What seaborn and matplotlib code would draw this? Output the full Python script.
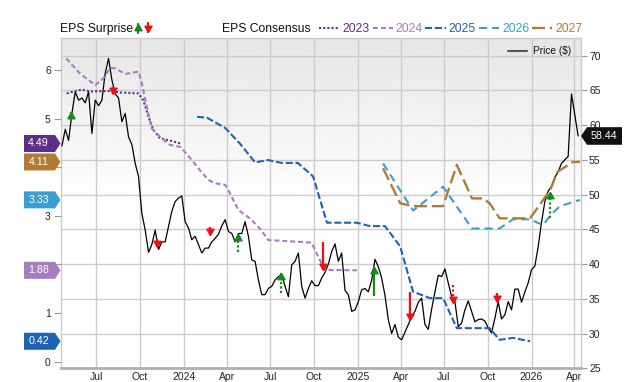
import numpy as np
import pandas as pd
import matplotlib
matplotlib.use('Agg')
import matplotlib.pyplot as plt
import seaborn as sns
from matplotlib.path import Path
from matplotlib.lines import Line2D
from matplotlib.patches import Polygon

# ---- data ----
price_start = '2023-04-20'   # weekly closes
price = [57.0, 59.4, 57.8, 61.7, 64.8, 63.6, 63.9, 63.2, 64.8, 58.8,
         63.6, 62.8, 63.6, 67.5, 69.6, 66.5, 64.5, 63.9, 60.5, 61.7,
         58.3, 57.2, 54.5, 52.6, 47.3, 44.9, 41.7, 42.8, 44.9, 42.1,
         43.2, 43.2, 45.4, 47.6, 49.0, 49.5, 49.8, 46.1, 45.2, 43.5,
         44.0, 42.8, 41.6, 42.3, 42.3, 43.2, 43.7, 44.3, 45.5, 46.4,
         44.7, 44.4, 43.2, 44.4, 44.4, 46.1, 44.0, 40.6, 40.4, 37.7,
         35.6, 35.6, 36.5, 36.8, 37.7, 38.2, 38.4, 36.8, 35.3, 39.9,
         40.4, 41.6, 36.8, 35.1, 36.5, 37.6, 36.9, 36.9, 38.0, 38.8,
         40.0, 41.8, 42.9, 40.4, 41.6, 36.2, 35.6, 33.2, 33.4, 34.6,
         36.3, 36.5, 36.0, 37.7, 40.7, 39.6, 38.0, 35.5, 32.0, 30.0,
         31.3, 29.5, 29.1, 30.2, 31.3, 32.4, 33.2, 34.5, 35.1, 31.3,
         30.6, 33.5, 36.0, 38.4, 38.2, 39.3, 37.3, 35.3, 34.6, 31.0,
         31.5, 33.4, 34.7, 33.2, 31.7, 32.0, 32.1, 31.8, 30.8, 30.1,
         32.2, 34.6, 32.1, 32.7, 34.6, 33.4, 36.4, 36.4, 34.5, 36.0,
         37.3, 39.2, 39.7, 42.5, 46.0, 49.0, 50.5, 51.2, 52.5, 53.3,
         54.5, 55.0, 55.5, 64.5, 61.5, 58.44]

eps_2023_dates = ['2023-04-30', '2023-05-14', '2023-06-01', '2023-06-18', '2023-07-30',
                  '2023-08-20', '2023-09-28', '2023-10-08', '2023-10-19', '2023-10-29',
                  '2023-11-12', '2023-12-03', '2023-12-25']
eps_2023 = [5.52, 5.56, 5.60, 5.56, 5.57, 5.54, 5.52, 5.38, 5.04, 4.77, 4.60, 4.55, 4.49]

eps_2024_dates = ['2023-04-29', '2023-05-28', '2023-06-29', '2023-07-16', '2023-07-30',
                  '2023-08-09', '2023-08-31', '2023-09-28', '2023-10-05', '2023-10-16',
                  '2023-10-26', '2023-11-12', '2023-12-03', '2023-12-25', '2024-01-18',
                  '2024-02-04', '2024-02-22', '2024-03-07', '2024-03-28', '2024-04-07',
                  '2024-04-25', '2024-05-19', '2024-06-09', '2024-06-27', '2024-07-21',
                  '2024-09-26', '2024-10-06', '2024-10-24', '2024-12-30']
eps_2024 = [6.24, 5.93, 5.69, 5.83, 6.04, 6.04, 5.92, 5.97, 5.73, 5.21,
            4.80, 4.63, 4.46, 4.42, 4.15, 3.94, 3.74, 3.67, 3.64, 3.47,
            3.12, 2.95, 2.74, 2.50, 2.49, 2.45, 2.23, 1.89, 1.88]

eps_2025_dates = ['2024-01-29', '2024-02-19', '2024-03-28', '2024-04-28', '2024-05-30',
                  '2024-06-26', '2024-07-25', '2024-08-28', '2024-09-29', '2024-10-28',
                  '2024-12-30', '2025-01-26', '2025-02-27', '2025-03-31', '2025-04-27',
                  '2025-06-01', '2025-06-29', '2025-07-28', '2025-10-05', '2025-10-26',
                  '2025-11-23', '2025-12-29']
eps_2025 = [5.04, 5.02, 4.81, 4.49, 4.10, 4.15, 4.09, 4.09, 3.81, 2.86,
            2.86, 2.79, 2.79, 2.37, 1.44, 1.31, 1.31, 0.69, 0.69, 0.45, 0.49, 0.42]

eps_2026_dates = ['2025-02-23', '2025-04-27', '2025-06-29', '2025-08-29', '2025-10-26',
                  '2025-11-23', '2025-12-29', '2026-01-25', '2026-02-13', '2026-03-02',
                  '2026-04-13']
eps_2026 = [4.08, 3.11, 3.60, 2.74, 2.74, 2.93, 2.93, 2.81, 3.05, 3.20, 3.33]

eps_2027_dates = ['2025-02-23', '2025-03-31', '2025-04-27', '2025-06-29', '2025-07-28',
                  '2025-08-29', '2025-09-21', '2025-10-05', '2025-10-26', '2025-12-29',
                  '2026-02-09', '2026-02-25', '2026-03-29', '2026-04-13']
eps_2027 = [3.98, 3.26, 3.20, 3.20, 4.05, 3.36, 3.36, 3.26, 2.95, 2.95, 3.53, 3.91, 4.11, 4.11]

# EPS surprise arrows (drawn on the price scale)
surprise_dates = ['2023-05-09', '2023-08-06', '2023-11-05', '2024-02-25', '2024-04-24',
                  '2024-07-23', '2024-10-20', '2025-02-04', '2025-04-21', '2025-07-20',
                  '2025-10-20', '2026-02-09']
surprise_from = [60.7, 65.5, 43.6, 45.3, 41.7, 35.9, 43.2, 35.4, 36.0, 37.0, 35.8, 46.6]
surprise_to = [61.9, 64.5, 42.5, 44.2, 44.4, 38.7, 39.1, 39.6, 31.9, 34.4, 34.6, 50.4]
surprise_dotted = [False, False, False, False, True, True, False, False, False, True, False, True]

years = ['2023', '2024', '2025', '2026', '2027']
year_colors = ['#5f2d86', '#a57dc1', '#1f63b4', '#3a9fd0', '#b07c33']
final_eps = [4.49, 1.88, 0.42, 3.33, 4.11]

tick_dates = ['2023-07-01', '2023-10-01', '2024-01-01', '2024-04-01', '2024-07-01',
              '2024-10-01', '2025-01-01', '2025-04-01', '2025-07-01', '2025-10-01',
              '2026-01-01', '2026-04-01']
tick_labels = ['Jul', 'Oct', '2024', 'Apr', 'Jul', 'Oct', '2025', 'Apr', 'Jul', 'Oct', '2026', 'Apr']
eps_ticks = [0, 1, 2, 3, 4, 5, 6]
eps_tick_labels = ['0', '1', '', '3', '', '5', '6']   # 2 and 4 sit behind the value flags

# ---- styling ----
sns.set_style('white')
plt.rcParams['font.family'] = ['Liberation Sans', 'DejaVu Sans']

W, H = 640, 382
GREEN, RED = '#12891a', '#f01010'
dash_styles = [(0, (1, 1)), (0, (2.4, 1.4)), (0, (3.4, 1.3)), (0, (3.9, 2.4)), (0, (5.5, 2.0))]
line_widths = [1.5, 1.5, 1.5, 1.5, 1.7]

up_head = Path([(0, 0), (-0.57, -1), (0.57, -1), (0, 0)], closed=True)
down_head = Path([(0, 0), (-0.57, 1), (0.57, 1), (0, 0)], closed=True)

fig = plt.figure(figsize=(6.4, 3.82), dpi=100)
top_px, bot_px, left_px, right_px = 37.6, 368.3, 60.5, 581.0
ax_p = fig.add_axes([left_px / W, 1 - bot_px / H, (right_px - left_px) / W, (bot_px - top_px) / H])
ax_e = ax_p.twinx()

# background gradient
t = np.linspace(0, 1, 200)
shade = np.clip(0.9 + 0.1 * t / 0.5, 0, 1)[:, None]
ax_p.imshow(shade, cmap='gray', vmin=0, vmax=1, extent=(0, 1, 0, 1),
            transform=ax_p.transAxes, aspect='auto', zorder=0)

# price line
price_dates = pd.date_range(price_start, periods=len(price), freq='7D')
sns.lineplot(x=price_dates, y=price, ax=ax_p, color='black', lw=0.9, legend=False, zorder=3)

# consensus lines
all_dates = [eps_2023_dates, eps_2024_dates, eps_2025_dates, eps_2026_dates, eps_2027_dates]
all_vals = [eps_2023, eps_2024, eps_2025, eps_2026, eps_2027]
for d, v, c, ls, lw in zip(all_dates, all_vals, year_colors, dash_styles, line_widths):
    sns.lineplot(x=pd.to_datetime(d), y=v, ax=ax_e, color=c, lw=lw, linestyle=ls, legend=False)

# surprise arrows
for d, a, b, dotted in zip(pd.to_datetime(surprise_dates), surprise_from, surprise_to, surprise_dotted):
    c = GREEN if b > a else RED
    ax_e.plot([d, d], [a, b], color=c, lw=1.6, ls=(0, (1, 1)) if dotted else '-',
              solid_capstyle='butt', transform=ax_p.transData, zorder=6)
    ax_e.plot([d], [b], marker=up_head if b > a else down_head, ms=9, color=c,
              ls='none', transform=ax_p.transData, zorder=7)

# axes limits / ticks
xlim = (pd.Timestamp('2023-04-17'), pd.Timestamp('2026-04-15'))
ax_p.set_xlim(xlim)
ax_e.set_xlim(xlim)
ax_p.set_ylim(25, 72.6)
ax_e.set_ylim(-0.136, 6.669)

ax_p.set_xticks(pd.to_datetime(tick_dates))
ax_p.set_xticklabels(tick_labels)
ax_p.set_yticks(range(25, 71, 5))
ax_e.set_yticks(eps_ticks)
ax_e.set_yticklabels(eps_tick_labels)
ax_p.yaxis.tick_right()
ax_e.yaxis.tick_left()
ax_p.set_xlabel('')
ax_p.set_ylabel('')
ax_e.set_ylabel('')

ax_p.tick_params(axis='x', length=0, pad=2.5, labelsize=7.5, labelcolor='#222222')
ax_p.tick_params(axis='y', length=4.3, width=0.8, color='#999999', pad=1.5,
                 labelsize=7.5, labelcolor='#222222')
ax_e.tick_params(axis='y', length=5, width=0.8, color='#999999', pad=2,
                 labelsize=7.5, labelcolor='#222222')

ax_p.set_axisbelow(True)
ax_p.grid(True, color='#cccccc', lw=1)
for s in ['top', 'left', 'right']:
    ax_p.spines[s].set_color('#cccccc')
    ax_p.spines[s].set_linewidth(1)
ax_p.spines['bottom'].set_color('#b0b0b0')
ax_p.spines['bottom'].set_linewidth(2)
for s in ax_e.spines.values():
    s.set_visible(False)


def to_fig(x, y):
    return (x / W, 1 - y / H)


def y_px(ax, v):
    return H - ax.transData.transform((0, v))[1]


# left value flags
for val, c in zip(final_eps, year_colors):
    y = y_px(ax_e, val)
    verts = [to_fig(24, y - 8.5), to_fig(55, y - 8.5), to_fig(60.5, y),
             to_fig(55, y + 8.5), to_fig(24, y + 8.5)]
    fig.add_artist(Polygon(verts, closed=True, transform=fig.transFigure, fc=c, ec='none', zorder=10))
    fig.text(*to_fig(38.5, y), f'{val:.2f}', color='white', fontsize=7.7,
             ha='center', va='center', zorder=11)

# right price flag
y = y_px(ax_p, price[-1])
verts = [to_fig(581, y), to_fig(587, y - 8.8), to_fig(622, y - 8.8),
         to_fig(622, y + 8.8), to_fig(587, y + 8.8)]
fig.add_artist(Polygon(verts, closed=True, transform=fig.transFigure, fc='#111111', ec='none', zorder=10))
fig.text(*to_fig(603.5, y), f'{price[-1]:.2f}', color='white', fontsize=7.7,
         ha='center', va='center', zorder=11)

# header legend
hy = 28.6
fig.text(*to_fig(60.5, hy), 'EPS Surprise', fontsize=8.7, va='center', color='#111111')
for x, c, up in [(138.2, GREEN, True), (148.0, RED, False)]:
    y0, y1 = (33, 24) if up else (23, 32)
    fig.add_artist(Line2D([x / W, x / W], [1 - y0 / H, 1 - y1 / H], transform=fig.transFigure,
                          color=c, lw=1.6))
    fig.add_artist(Line2D([x / W], [1 - y1 / H], transform=fig.transFigure, color=c,
                          marker=up_head if up else down_head, ms=9, ls='none'))
fig.text(*to_fig(222, hy), 'EPS Consensus', fontsize=8.7, va='center', color='#111111')
samples = [(318.9, 338.5, 342.6), (372.9, 392.5, 395.7), (425.2, 445.6, 448.5),
           (479.2, 498.7, 502.0), (531.5, 552.0, 555.2)]
for (x0, x1, xt), yr, c, ls, lw in zip(samples, years, year_colors, dash_styles, line_widths):
    fig.add_artist(Line2D([x0 / W, x1 / W], [1 - 27.8 / H] * 2, transform=fig.transFigure,
                          color=c, ls=ls, lw=lw))
    fig.text(*to_fig(xt, hy), yr, fontsize=8.7, va='center', color=c)

# price legend inside plot
fig.add_artist(Line2D([508 / W, 527.4 / W], [1 - 51.1 / H] * 2, transform=fig.transFigure,
                      color='#555555', lw=1.5))
fig.text(*to_fig(532.7, 51.1), 'Price ($)', fontsize=7.3, va='center', color='#111111')

fig.savefig('out.png', dpi=100)
